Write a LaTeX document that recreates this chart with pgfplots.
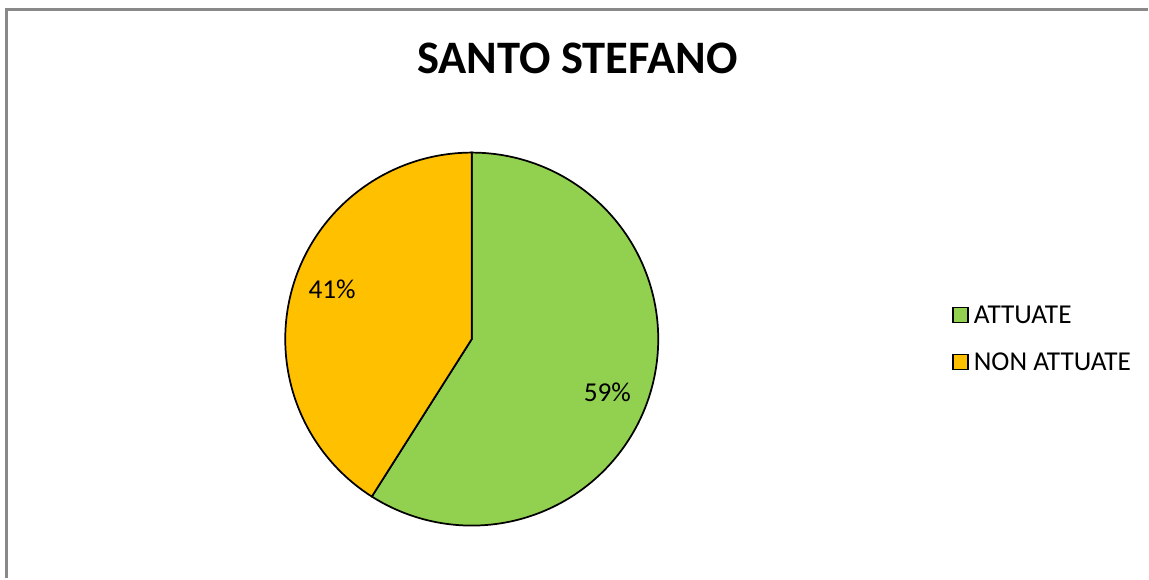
\documentclass[border=0pt]{standalone}
\usepackage{pgfplots}
\pgfplotsset{compat=1.18}
\usepackage{pgfplotstable}
\usepackage{fontspec}
\setmainfont{Carlito}
\definecolor{cgreen}{RGB}{146,208,80}
\definecolor{corange}{RGB}{255,192,0}
\definecolor{cframe}{RGB}{137,137,137}
\pgfplotstableread[col sep=comma]{
label,value
ATTUATE,59
NON ATTUATE,41
}\piedata
\pgfplotstablegetelem{0}{value}\of\piedata\let\va\pgfplotsretval
\pgfplotstablegetelem{1}{value}\of\piedata\let\vb\pgfplotsretval
\pgfmathsetmacro\frac{\va/(\va+\vb)}
\pgfmathsetmacro\aend{90-360*\frac}
\pgfmathsetmacro\aendb{\aend+360}
\begin{document}
\begin{tikzpicture}
\begin{axis}[
  width=861.75pt, height=433.5pt, scale only axis,
  xmin=0, xmax=1149, ymin=0, ymax=578,
  hide axis, clip=false,
  legend style={at={(axis cs:954.5,238.5)}, anchor=west, draw=none, fill=none,
    inner sep=0pt, row sep=21pt, column sep=3pt,
    nodes={font=\fontsize{20.5}{24}\selectfont, text height=12.5pt, text depth=0pt, inner sep=1pt}},
  legend cell align=left,
  legend image code/.code={\draw[#1, draw=black, line width=1pt] (0pt,-5.6pt) rectangle (11.25pt,5.6pt);},
]
\path (rel axis cs:0,0) rectangle (rel axis cs:1,1);
% frame
\draw[cframe, line width=1.6pt] (axis cs:6.5,-2) -- (axis cs:6.5,568.5) -- (axis cs:1151,568.5);
% wedges
\addplot[fill=cgreen, draw=black, line width=1.3pt, domain=\aend:90, samples=150, variable=\t]
  ({473+187*cos(t)},{238+187*sin(t)}) -- (axis cs:473,238) -- cycle;
\addlegendentry{ATTUATE}
\addplot[fill=corange, draw=black, line width=1.3pt, domain=90:\aendb, samples=120, variable=\t]
  ({473+187*cos(t)},{238+187*sin(t)}) -- (axis cs:473,238) -- cycle;
\addlegendentry{NON ATTUATE}
\node[font=\fontsize{20.5}{24}\selectfont] at (axis cs:609,185) {59\%};
\node[font=\fontsize{20.5}{24}\selectfont] at (axis cs:333,288) {41\%};
\node[font=\bfseries\fontsize{35}{40}\selectfont] at (axis cs:579,519) {SANTO STEFANO};
\end{axis}
\path[use as bounding box] (current axis.south west) rectangle (current axis.north east);
\end{tikzpicture}
\end{document}
